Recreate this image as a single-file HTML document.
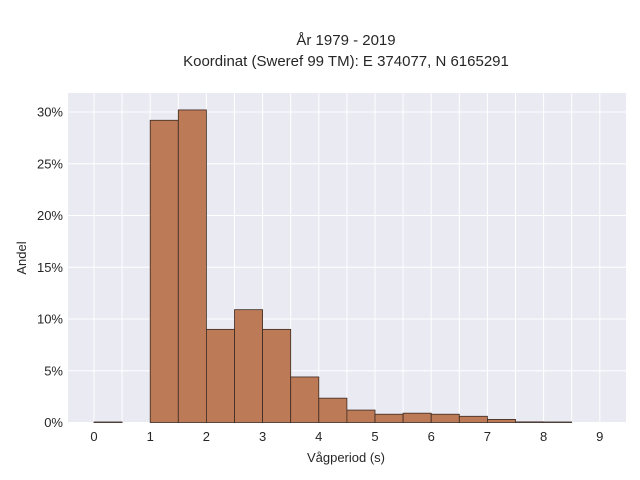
<!DOCTYPE html>
<html><head><meta charset="utf-8"><style>
body{margin:0;background:#fff;}
svg{display:block;font-family:"Liberation Sans",sans-serif;}
</style></head><body>
<svg id="chart" width="640" height="480" viewBox="0 0 640 480">
<rect x="68" y="93" width="558" height="330" fill="#eaeaf2"/>
<g id="grid"></g><g id="bars"></g><g id="xt"></g><g id="yt"></g>
<text x="346" y="45" text-anchor="middle" font-size="15" fill="#262626">År 1979 - 2019</text>
<text x="346" y="66" text-anchor="middle" font-size="15" fill="#262626">Koordinat (Sweref 99 TM): E 374077, N 6165291</text>
<text x="346" y="462" text-anchor="middle" font-size="13" fill="#262626">Vågperiod (s)</text>
<text transform="translate(26,258) rotate(-90)" text-anchor="middle" font-size="13" fill="#262626">Andel</text>
</svg>
<script>
const binStarts=[0,0.5,1,1.5,2,2.5,3,3.5,4,4.5,5,5.5,6,6.5,7,7.5,8];
const shares=[0.05,0,29.2,30.2,9.0,10.9,9.0,4.4,2.35,1.2,0.8,0.9,0.8,0.6,0.3,0.06,0.05];
const xTicks=[0,1,2,3,4,5,6,7,8,9];
const yTicks=[0,5,10,15,20,25,30];
const binWidth=0.5;
const NS="http://www.w3.org/2000/svg";
const X=v=>94+v*56.2;
const Y=v=>422.5-v*10.35;
function mk(tag,attrs,parent){const e=document.createElementNS(NS,tag);for(const k in attrs)e.setAttribute(k,attrs[k]);document.getElementById(parent).appendChild(e);return e;}
for(let v=-0.5;v<=9.5;v+=0.5){const x=X(v);if(x<68||x>626)continue;
 const l=mk('line',{x1:x,x2:x,y1:93,y2:423,stroke:'#fff','stroke-width':1},'grid');
 
 }
yTicks.forEach(t=>{const y=Y(t);
 const l=mk('line',{x1:68,x2:626,y1:y,y2:y,stroke:'#fff','stroke-width':1},'grid');
 
 
 const tx=mk('text',{x:63,y:y+4.5,'text-anchor':'end','font-size':13,fill:'#262626'},'yt');
 tx.textContent=t+'%';
 
 });
xTicks.forEach(t=>{
 const tx=mk('text',{x:X(t),y:441,'text-anchor':'middle','font-size':13,fill:'#262626'},'xt');
 tx.textContent=t;
 
 });
binStarts.forEach((b,i)=>{const v=shares[i];if(v<=0)return;
 const r=mk('rect',{x:X(b),y:Y(v),width:X(b+binWidth)-X(b),height:Y(0)-Y(v),fill:'#bd7a57',stroke:'#3a2a22','stroke-width':0.8},'bars');
 
 });
</script>
</body></html>
